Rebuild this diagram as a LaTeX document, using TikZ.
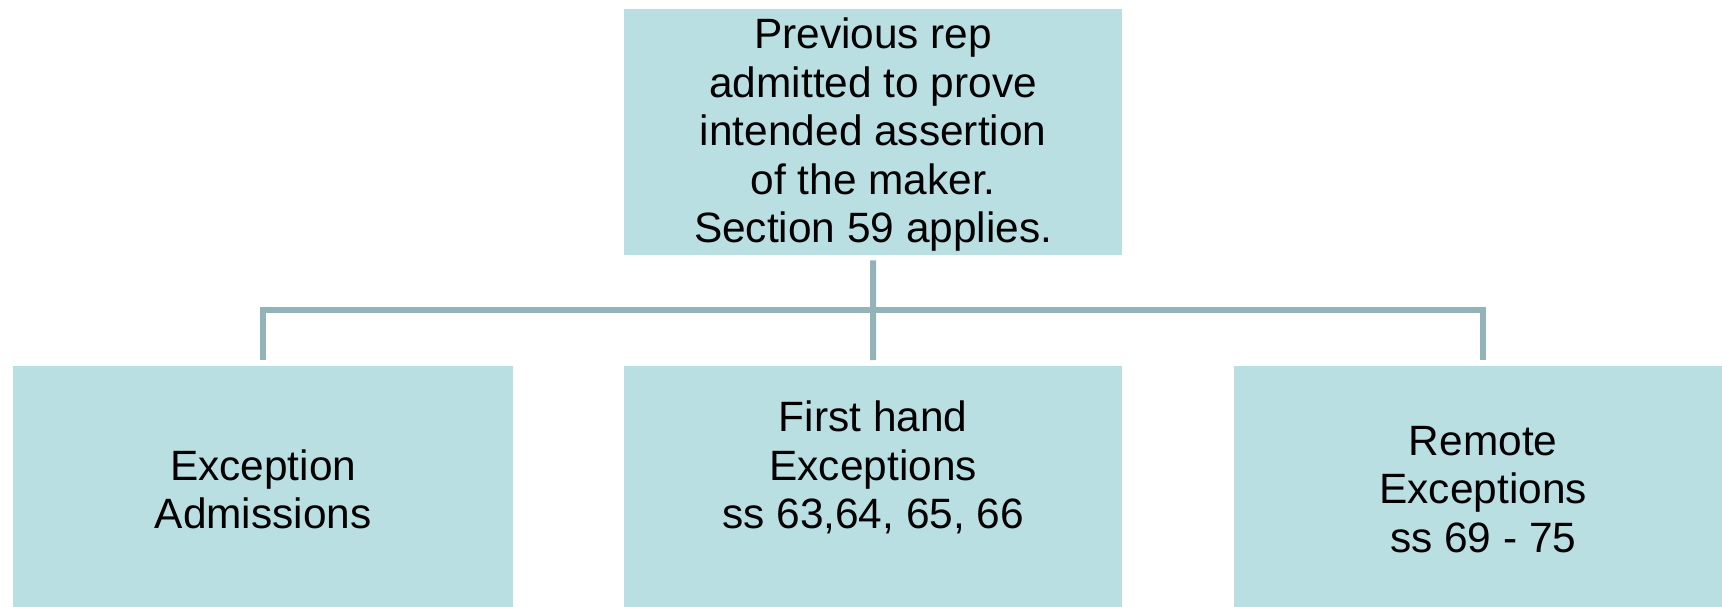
\documentclass[tikz,border=0pt]{standalone}
\usepackage{fontspec}
\setmainfont{Liberation Sans}
\definecolor{boxfill}{HTML}{B9DFE3}
\definecolor{linec}{HTML}{94B3B8}
\begin{document}
\begin{tikzpicture}[x=1pt,y=-1pt,
  box/.style={fill=boxfill, inner sep=0pt, anchor=north west, minimum width=498pt},
  txt/.style={inner sep=0pt, align=center, anchor=north, font=\fontsize{42.4}{48.5}\selectfont},
  conn/.style={draw=linec, line width=6pt, line join=miter}]
\useasboundingbox (0,0) rectangle (1722,607);
\node[box, minimum height=245.5pt] (top) at (624,9) {};
\node[box, minimum height=254pt, minimum width=500pt] (left) at (13,366) {};
\node[box, minimum height=254pt] (mid) at (624,366) {};
\node[box, minimum height=254pt] (right) at (1234,366) {};
\node[txt] (toptext) at (top.center |- 0,14.4) {\strut Previous rep\\admitted to prove\\intended assertion\\of the maker.\\Section 59 applies.};
\node[txt] (lefttext) at (left.center |- 0,446) {\strut Exception\\Admissions};
\node[txt] (midtext) at (mid.center |- 0,397.8) {\strut First hand\\Exceptions\\ss 63,64, 65, 66};
\node[txt] (righttext) at (right.center |- 0,421.2) {\strut Remote\\Exceptions\\ss 69 - 75};
\coordinate (bus) at (873,310.3);
\draw[conn, shorten <=5.5pt] (top) -- (bus);
\draw[conn, shorten >=6pt] (bus) -| (left);
\draw[conn, shorten >=6pt] (bus) -- (mid);
\draw[conn, shorten >=6pt] (bus) -| (right);
\end{tikzpicture}
\end{document}
